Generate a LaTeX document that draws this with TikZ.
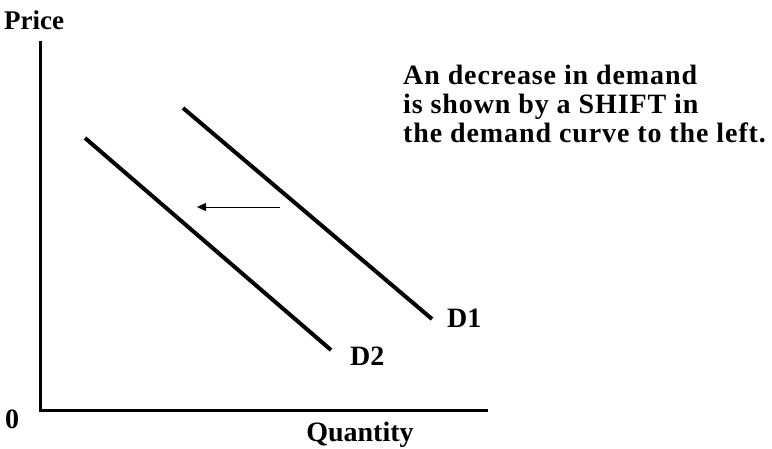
\documentclass[tikz,border=0pt]{standalone}
\usepackage{fontspec}
\setmainfont{Liberation Serif}
\newfontfamily\parafont[LetterSpace=3.2]{Liberation Serif}
\usetikzlibrary{arrows.meta}
\begin{document}
\begin{tikzpicture}[x=1pt,y=-1pt,
  lbl/.style={font=\bfseries\fontsize{28}{32}\selectfont, inner sep=0pt},
  para/.style={font=\parafont\bfseries\fontsize{28}{32}\selectfont, inner sep=0pt},
  axis/.style={line width=3pt},
  curve/.style={line width=4pt},
  shiftarrow/.style={line width=1pt,-{Triangle[length=9pt,width=8pt]}}]
\useasboundingbox (0,0) rectangle (772,448);
\coordinate (top) at (40,42);
\coordinate (orig) at (40,410);
\coordinate (right) at (486,410);
\draw[axis,line cap=rect] (top) -- (orig) -- (right);
\node[lbl,anchor=base west] (price) at (4,29) {\fontsize{27}{30}\selectfont Price};
\node[lbl,anchor=base west] (zero) at (5,428) {0};
\node[lbl,anchor=base] (qty) at (360,441) {Quantity};
\coordinate (d1a) at (183,108);
\coordinate (d1b) at (432,319);
\coordinate (d2a) at (85,138);
\coordinate (d2b) at (331,350);
\draw[curve] (d1a) -- (d1b);
\draw[curve] (d2a) -- (d2b);
\node[lbl,anchor=base west] (D1) at (447,327) {D1};
\node[lbl,anchor=base west] (D2) at (350,365) {D2};
\coordinate (as) at (280,207);
\coordinate (ae) at (197,207);
\draw[shiftarrow] (as) -- (ae);
\node[para,anchor=base west] (t1) at (403,84) {An decrease in demand};
\node[para,anchor=base west] (t2) at (403,113) {is shown by a SHIFT in};
\node[para,anchor=base west] (t3) at (403,142) {the demand curve to the left.};
\end{tikzpicture}
\end{document}
